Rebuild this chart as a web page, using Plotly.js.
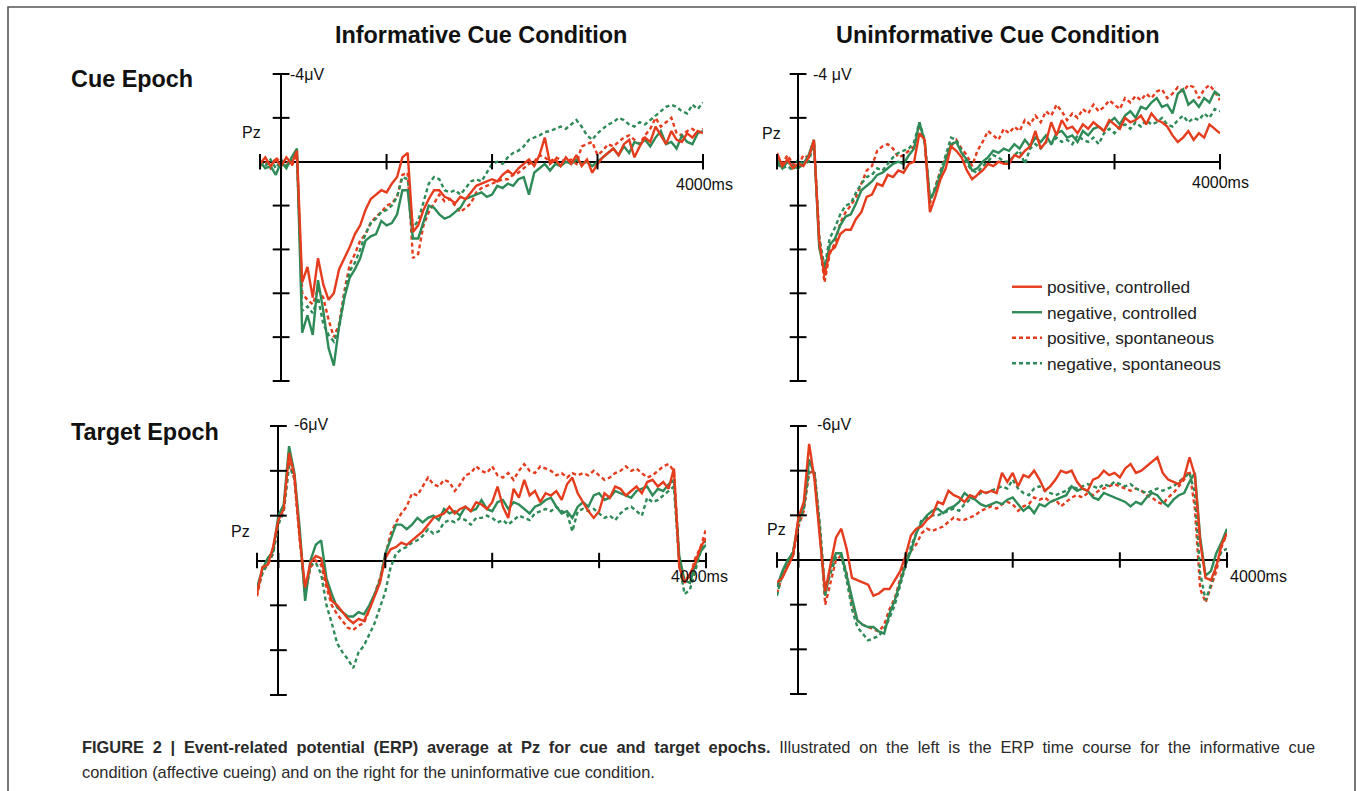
<!DOCTYPE html>
<html>
<head>
<meta charset="utf-8">
<script src="https://cdn.plot.ly/plotly-3.0.1.min.js"></script>
<style>
  html, body { margin: 0; padding: 0; background: #fff; }
  #chart { width: 1357px; height: 791px; }
</style>
</head>
<body>
<div id="chart"></div>
<script>
// ---------- DATA (µV, time in ms) ----------
const TIME = [-200,-150,-100,-50,0,
  50,100,150,200,250,300,350,400,450,
  500,550,600,650,700,750,800,850,900,950,
  1000,1050,1100,1150,1200,1250,1300,1350,1400,1450,
  1500,1550,1600,1650,1700,1750,1800,1850,1900,1950,
  2000,2050,2100,2150,2200,2250,2300,2350,2400,2450,
  2500,2550,2600,2650,2700,2750,2800,2850,2900,2950,
  3000,3050,3100,3150,3200,3250,3300,3350,3400,3450,
  3500,3550,3600,3650,3700,3750,3800,3850,3900,3950,
  4000];

const SERIES_NAMES = ['positive, controlled', 'negative, controlled', 'positive, spontaneous', 'negative, spontaneous'];
const COLUMN_TITLES = ['Informative Cue Condition', 'Uninformative Cue Condition'];
const ROW_TITLES = ['Cue Epoch', 'Target Epoch'];
const TIME_TICKS = [-200, 0, 1000, 2000, 3000, 4000];
const CUE_VTICKS = [-4, -2, 2, 4, 6, 8, 10];
const TARGET_VTICKS = [-6, -4, -2, 2, 4, 6];

// Informative cue condition, cue epoch
const infCuePC = [0.1,-0.2,0.2,-0.1,0.2,
  -0.2,0.1,-0.5,5.5,4.8,6.2,4.4,5.6,6.3,
  6.0,4.9,4.4,3.9,3.3,2.9,2.2,1.7,1.5,1.3,
  1.4,1.0,0.7,-0.2,-0.4,3.2,2.9,2.2,1.7,1.3,
  1.3,1.6,1.7,1.9,1.6,1.7,1.4,1.1,1.0,0.9,
  0.8,0.9,0.6,0.4,0.6,0.3,0.1,-0.1,0.2,-0.3,
  -1.1,0.1,-0.1,0.2,-0.2,0.1,-0.3,0.2,-0.1,0.5,
  0.1,-0.2,-0.4,-0.6,-0.3,-0.8,-1.0,-0.2,-0.7,-1.1,
  -0.9,-1.6,-1.2,-0.8,-1.4,-1.0,-0.9,-1.3,-1.1,-1.4,
  -1.3];
const infCueNC = [0.0,0.3,0.2,0.6,0.0,
  0.3,-0.2,-0.6,7.8,7.0,7.9,5.4,6.8,8.5,
  9.3,7.5,6.2,5.3,4.9,4.4,3.6,3.4,3.3,2.7,
  2.9,2.8,2.4,1.3,1.3,3.5,3.5,2.7,2.0,2.1,
  2.4,2.6,2.5,2.3,2.1,1.7,1.6,1.5,1.4,1.6,
  1.5,1.1,1.2,1.0,1.1,0.8,0.7,1.5,0.5,0.3,
  0.1,0.4,0.1,0.2,0.0,0.1,-0.1,0.1,0.0,0.2,
  0.0,-0.2,-0.4,-0.6,-0.3,-0.7,-0.4,-0.9,-0.8,-1.0,
  -0.7,-1.1,-1.4,-0.8,-0.9,-0.6,-1.2,-0.9,-0.8,-1.3,
  -1.4];
const infCuePS = [0.2,0.0,0.3,-0.2,0.1,
  0.0,0.2,-0.3,6.0,6.3,6.5,5.8,6.2,7.2,
  8.0,7.4,5.9,4.7,4.2,3.6,3.3,2.8,2.5,2.3,
  2.0,1.9,1.6,0.6,0.5,4.4,4.2,2.9,2.3,1.9,
  1.5,1.8,1.7,2.0,2.3,2.1,1.9,1.4,1.2,1.1,
  1.0,0.9,0.8,0.8,0.6,0.5,0.3,0.1,0.0,-0.3,
  -0.2,0.0,-0.2,-0.1,0.0,-0.1,0.1,-0.7,-0.8,-0.9,
  -0.3,-0.5,-0.8,-0.7,-0.9,-1.1,-1.2,-1.0,-0.8,-1.2,
  -1.5,-2.0,-1.6,-1.8,-2.0,-1.3,-1.2,-1.4,-1.5,-1.3,
  -1.5];
const infCueNS = [0.0,0.2,-0.1,0.3,-0.1,
  0.2,-0.1,-0.4,6.8,6.6,6.9,6.2,7.4,7.9,
  8.2,7.6,6.1,5.0,4.6,4.0,3.3,2.8,2.6,2.3,
  2.2,2.0,1.6,0.7,0.8,3.0,2.7,1.8,1.0,0.7,
  0.8,1.3,1.4,1.3,1.5,1.2,0.9,0.8,0.9,0.5,
  0.1,0.0,0.1,-0.2,-0.4,-0.5,-0.7,-1.0,-1.1,-1.2,
  -1.35,-1.4,-1.5,-1.6,-1.5,-1.7,-1.9,-1.6,-1.2,-1.0,
  -1.3,-1.5,-1.7,-1.8,-2.0,-1.9,-1.7,-1.6,-1.8,-1.7,
  -1.9,-2.1,-2.3,-2.5,-2.6,-2.5,-2.3,-2.2,-2.6,-2.4,
  -2.7];

// Uninformative cue condition, cue epoch
const uninfCuePC = [-0.4,0.2,-0.1,0.3,0.1,
  0.2,-0.2,-1.0,3.6,5.2,4.1,3.9,3.3,3.1,
  3.1,2.6,2.3,1.6,1.5,1.0,1.1,0.6,0.7,0.4,
  0.5,0.1,0.0,-1.3,-1.0,2.3,1.6,0.8,0.3,-0.7,
  -0.5,-0.2,0.4,0.8,0.6,0.4,0.1,0.2,0.0,0.1,
  0.1,-0.3,-0.2,-0.5,-0.7,-1.4,-0.6,-0.9,-1.8,-1.2,
  -1.9,-1.5,-1.6,-1.3,-1.7,-1.5,-1.8,-1.6,-1.4,-1.9,
  -1.7,-1.5,-2.0,-1.8,-1.9,-2.1,-1.7,-2.2,-1.9,-1.8,
  -1.6,-1.2,-0.9,-1.1,-1.4,-1.0,-1.3,-1.1,-1.7,-1.5,
  -1.3];
const uninfCueNC = [-0.1,0.3,0.0,0.2,0.3,
  0.1,-0.3,-1.0,3.9,5.0,3.8,3.5,2.9,2.5,
  2.4,1.9,1.3,1.1,0.9,0.6,0.5,0.3,0.1,0.0,
  0.1,-0.3,-0.6,-1.8,-0.9,1.7,1.3,0.6,-0.1,-0.8,
  -0.9,-0.4,-0.1,0.4,0.3,0.0,-0.2,-0.5,-0.4,-0.6,
  -0.5,-0.8,-0.6,-1.0,-0.7,-1.1,-0.9,-1.2,-0.8,-1.3,
  -1.4,-1.1,-1.2,-0.9,-1.4,-1.2,-1.5,-1.6,-1.4,-1.8,
  -2.0,-1.7,-2.1,-2.3,-2.0,-2.5,-2.4,-2.7,-2.9,-2.5,
  -2.6,-2.2,-3.1,-3.3,-2.6,-2.8,-2.5,-2.9,-2.7,-3.2,
  -3.0];
const uninfCuePS = [-0.2,0.1,-0.3,0.1,0.2,
  -0.3,-0.2,-0.9,3.5,5.5,4.2,3.7,2.8,2.3,
  2.0,1.6,1.0,0.4,0.2,-0.5,-0.7,-0.8,-0.6,-0.2,
  -0.3,-0.5,-0.7,-1.7,-0.9,1.9,1.1,0.4,-0.2,-0.7,
  -1.0,-0.6,-0.3,0.2,-0.5,-0.9,-1.4,-1.2,-1.0,-1.5,
  -1.3,-1.6,-1.4,-1.9,-1.7,-2.1,-1.8,-2.3,-2.1,-2.6,
  -2.3,-1.9,-2.2,-2.0,-2.4,-2.2,-2.6,-2.3,-2.5,-2.8,
  -2.6,-2.4,-2.9,-2.7,-3.0,-2.8,-3.1,-2.9,-3.2,-3.3,
  -2.9,-3.1,-3.4,-3.2,-3.5,-3.4,-2.9,-3.3,-3.5,-3.2,
  -2.8];
const uninfCueNS = [0.1,0.3,0.2,0.4,-0.1,
  0.1,0.0,-0.8,3.4,4.8,3.5,3.0,2.4,2.0,
  1.9,1.4,1.0,0.7,0.6,0.3,0.4,0.1,-0.2,-0.4,
  -0.5,-0.6,-0.9,-1.8,-1.0,1.8,1.2,0.5,-0.3,-1.1,
  -1.0,-0.5,0.1,0.4,0.5,0.2,0.0,-0.3,-0.2,0.0,
  0.0,-0.3,-0.5,0.1,-0.6,-0.8,-0.6,-0.9,-0.8,-1.1,
  -0.9,-1.0,-0.8,-1.2,-1.0,-0.9,-1.1,-0.8,-1.3,-1.5,
  -1.3,-1.6,-1.7,-1.5,-1.8,-1.6,-1.9,-1.7,-1.8,-2.0,
  -1.7,-1.6,-1.9,-2.1,-1.8,-2.0,-1.9,-2.2,-2.0,-2.4,
  -2.3];

// Informative cue condition, target epoch
const infTgtPC = [1.5,0.3,0.2,-0.6,-1.8,
  -2.3,-4.8,-3.8,-1.0,1.2,0.1,-0.2,-0.1,1.0,
  1.8,2.0,2.3,2.6,2.8,2.6,2.7,2.2,1.6,1.0,
  -0.1,-0.5,-0.6,-0.8,-0.7,-0.9,-1.1,-1.3,-1.6,-1.9,
  -2.0,-2.1,-2.4,-2.1,-2.3,-2.4,-2.2,-2.6,-2.5,-2.3,
  -2.6,-3.3,-2.4,-1.9,-3.2,-2.8,-3.6,-2.9,-3.1,-2.6,
  -3.0,-2.9,-3.1,-2.7,-3.4,-3.7,-3.0,-2.6,-2.2,-1.9,
  -2.2,-3.0,-2.8,-3.3,-3.2,-2.9,-3.1,-3.3,-3.0,-3.5,
  -3.6,-3.3,-3.5,-3.2,-4.1,0.3,1.0,0.6,0.1,-0.6,
  -1.0];
const infTgtNC = [1.2,0.4,-0.1,-0.4,-2.0,
  -2.5,-5.1,-3.9,-1.4,1.8,0.0,-0.7,-0.9,0.8,
  1.5,2.1,2.3,2.5,2.5,2.3,2.4,2.0,1.5,0.9,
  -0.3,-1.0,-1.6,-1.6,-1.4,-1.6,-1.9,-1.7,-1.9,-2.0,
  -1.8,-2.3,-2.1,-2.2,-2.0,-2.4,-2.2,-2.3,-2.7,-2.3,
  -2.2,-2.6,-2.7,-2.3,-2.6,-2.5,-2.3,-2.1,-2.4,-2.5,
  -2.7,-2.8,-2.4,-2.1,-2.2,-1.9,-2.4,-2.6,-2.4,-2.9,
  -3.0,-2.7,-2.8,-3.1,-3.0,-2.9,-2.8,-3.1,-3.2,-3.3,
  -2.9,-3.2,-3.1,-3.4,-3.6,-0.2,0.9,1.0,0.2,-0.4,
  -0.7];
const infTgtPS = [1.6,0.5,0.2,-0.3,-1.7,
  -2.2,-4.4,-3.6,-0.9,1.5,0.3,0.0,0.2,1.2,
  2.0,2.4,2.7,3.0,3.1,2.9,2.8,2.2,1.5,0.8,
  -0.2,-1.2,-1.7,-2.1,-2.4,-3.0,-2.9,-3.3,-3.7,-3.4,
  -3.3,-3.6,-3.5,-3.1,-3.4,-3.8,-3.9,-4.2,-4.0,-3.9,
  -4.2,-3.8,-3.7,-3.9,-3.6,-4.0,-4.3,-4.0,-3.9,-4.2,
  -4.1,-4.0,-3.8,-3.9,-3.7,-3.9,-3.8,-3.9,-3.8,-4.0,
  -3.8,-3.6,-3.7,-3.9,-4.0,-4.2,-4.0,-4.1,-3.9,-3.7,
  -3.8,-4.0,-4.2,-4.3,-4.0,0.0,0.9,0.7,-0.1,-0.6,
  -1.4];
const infTgtNS = [1.3,0.6,0.1,-0.3,-1.6,
  -2.2,-4.2,-3.7,-1.1,1.5,0.2,0.1,0.6,2.0,
  2.8,3.7,4.1,4.4,4.8,4.1,3.8,3.3,2.8,2.1,
  1.4,0.3,-0.3,-0.5,-0.6,-0.8,-0.9,-1.1,-1.4,-1.2,
  -1.3,-1.7,-1.8,-1.7,-1.9,-1.8,-1.6,-1.9,-1.9,-2.0,
  -1.9,-1.7,-1.8,-1.6,-1.8,-2.0,-1.9,-1.8,-2.1,-2.2,
  -2.3,-2.2,-2.4,-2.2,-2.1,-1.3,-2.2,-2.3,-2.2,-2.3,
  -2.1,-1.9,-2.0,-1.8,-2.1,-2.3,-2.4,-2.2,-2.0,-2.8,
  -2.6,-2.7,-2.9,-3.1,-3.3,0.2,1.5,1.3,0.5,-0.4,
  -0.9];

// Uninformative cue condition, target epoch
const uninfTgtPC = [1.0,0.8,0.3,-0.2,-1.9,
  -2.6,-5.2,-3.6,-1.0,1.4,0.2,-1.0,-1.4,-0.5,
  0.8,0.9,1.0,1.1,1.6,1.5,1.3,1.3,0.9,0.5,
  -0.2,-1.1,-1.4,-1.5,-1.8,-2.0,-2.6,-2.5,-3.1,-2.9,
  -2.8,-2.6,-2.9,-2.8,-3.1,-3.0,-3.1,-3.0,-3.9,-3.5,
  -3.9,-3.3,-3.8,-3.7,-4.0,-3.6,-3.1,-3.3,-3.6,-4.0,
  -3.9,-4.0,-3.5,-3.2,-3.1,-3.6,-3.7,-4.0,-3.8,-3.9,
  -3.7,-4.1,-4.3,-3.9,-4.0,-4.2,-4.4,-4.6,-3.9,-3.6,
  -3.5,-3.4,-3.7,-4.6,-3.8,-0.8,0.8,0.9,0.3,-0.7,
  -1.2];
const uninfTgtNC = [1.2,0.5,0.0,-0.3,-1.8,
  -2.4,-4.5,-3.8,-1.2,1.6,0.3,-0.3,-0.3,0.7,
  1.8,2.7,2.9,3.0,3.0,3.2,3.3,2.4,1.8,1.0,
  0.2,-0.4,-1.2,-1.7,-2.0,-2.2,-2.3,-2.1,-2.3,-2.4,
  -2.6,-3.0,-2.8,-2.7,-2.5,-2.4,-2.5,-2.6,-2.5,-2.7,
  -2.8,-2.5,-2.2,-2.4,-2.1,-2.5,-2.4,-2.6,-2.7,-2.8,
  -2.9,-3.3,-3.1,-3.2,-3.1,-2.8,-2.7,-3.0,-2.9,-2.8,
  -2.7,-2.6,-2.4,-2.6,-2.5,-2.8,-3.0,-2.9,-2.6,-2.4,
  -2.7,-2.9,-3.0,-3.5,-3.9,-1.0,0.7,0.5,-0.3,-0.8,
  -1.4];
const uninfTgtPS = [1.5,0.7,0.2,-0.2,-1.5,
  -2.2,-3.9,-4.0,-1.4,2.0,1.0,0.0,-0.2,0.6,
  1.9,2.7,2.9,3.0,3.1,3.2,2.9,2.2,1.7,0.9,
  0.0,-0.4,-0.7,-1.2,-1.4,-1.3,-1.4,-1.5,-1.7,-1.9,
  -1.8,-1.8,-1.9,-2.0,-2.2,-2.3,-2.4,-2.3,-2.5,-2.6,
  -2.5,-2.2,-2.4,-2.5,-2.8,-2.7,-2.8,-2.6,-2.7,-2.4,
  -2.6,-2.8,-2.9,-2.8,-3.0,-2.9,-3.1,-3.2,-3.3,-3.4,
  -3.3,-3.2,-3.1,-3.2,-3.1,-2.9,-2.8,-2.6,-2.5,-2.8,
  -3.0,-3.3,-3.6,-4.0,-2.3,1.3,1.9,1.2,0.5,-0.6,
  -1.2];
const uninfTgtNS = [1.6,0.6,0.1,-0.4,-1.6,
  -2.3,-4.0,-3.9,-1.6,1.4,0.6,-0.1,-0.2,0.9,
  2.2,3.0,3.3,3.6,3.5,3.4,3.1,2.6,2.0,1.1,
  0.3,-0.6,-1.2,-1.8,-1.9,-2.0,-2.0,-2.1,-2.2,-2.3,
  -2.2,-2.5,-2.7,-2.8,-3.0,-3.0,-3.1,-3.2,-3.3,-3.2,
  -3.6,-3.2,-3.0,-2.9,-3.2,-3.3,-3.1,-3.0,-2.9,-3.0,
  -3.1,-3.3,-3.2,-3.3,-3.4,-3.3,-3.2,-3.4,-3.3,-3.5,
  -3.4,-3.3,-3.4,-3.2,-3.1,-3.0,-3.1,-3.2,-3.1,-3.2,
  -3.3,-3.5,-3.7,-3.9,-3.0,0.6,1.8,1.1,0.2,-0.4,
  -0.5];

// ---------- STYLE ----------
const W = 1357, H = 791;
const RED = '#e63c1e', GREEN = '#2e8a57';
const DASH = '4px,3px';
const STYLES = [
  {color: RED, dash: 'solid'},
  {color: GREEN, dash: 'solid'},
  {color: RED, dash: DASH},
  {color: GREEN, dash: DASH}
];
const FONT = 'Liberation Sans, Arial, Helvetica, sans-serif';
const px = v => v / W;
const py = v => 1 - v / H;

const panels = [
  {ax: '', series: [infCuePC, infCueNC, infCuePS, infCueNS], vticks: CUE_VTICKS, yr: [10, -4],
   dom: {x: [260, 703], y: [74, 381]}},
  {ax: '2', series: [uninfCuePC, uninfCueNC, uninfCuePS, uninfCueNS], vticks: CUE_VTICKS, yr: [10, -4],
   dom: {x: [777, 1220], y: [74, 381]}},
  {ax: '3', series: [infTgtPC, infTgtNC, infTgtPS, infTgtNS], vticks: TARGET_VTICKS, yr: [6, -6],
   dom: {x: [257, 706], y: [426, 695]}},
  {ax: '4', series: [uninfTgtPC, uninfTgtNC, uninfTgtPS, uninfTgtNS], vticks: TARGET_VTICKS, yr: [6, -6],
   dom: {x: [777, 1227], y: [426, 694]}}
];

const traces = [];
const layout = {
  width: W, height: H,
  margin: {l: 0, r: 0, t: 0, b: 0},
  paper_bgcolor: '#fff', plot_bgcolor: 'rgba(0,0,0,0)',
  showlegend: true,
  hovermode: false,
  legend: {
    x: px(1007), y: py(269), xanchor: 'left', yanchor: 'top',
    bgcolor: 'rgba(0,0,0,0)', borderwidth: 0,
    font: {family: FONT, size: 17.3, color: '#222'},
    traceorder: 'normal', tracegroupgap: 0
  },
  annotations: [],
  shapes: []
};

const drawOrder = [2, 3, 1, 0];
panels.forEach((p, pi) => {
  const xa = 'x' + p.ax, ya = 'y' + p.ax;
  drawOrder.forEach(si => {
    traces.push({
      type: 'scatter', mode: 'lines',
      x: TIME, y: p.series[si],
      xaxis: xa, yaxis: ya,
      name: SERIES_NAMES[si],
      legendrank: si + 1,
      showlegend: pi === 0,
      line: {color: STYLES[si].color, dash: STYLES[si].dash, width: 2.4},
      hoverinfo: 'skip'
    });
  });
  // tick marks on the crossing axes
  traces.push({
    type: 'scatter', mode: 'markers', x: TIME_TICKS, y: TIME_TICKS.map(() => 0),
    xaxis: xa, yaxis: ya, showlegend: false, cliponaxis: false, hoverinfo: 'skip',
    marker: {symbol: 'line-ns-open', size: 11, color: '#000', line: {color: '#000', width: 2}}
  });
  traces.push({
    type: 'scatter', mode: 'markers', x: p.vticks.map(() => 0), y: p.vticks,
    xaxis: xa, yaxis: ya, showlegend: false, cliponaxis: false, hoverinfo: 'skip',
    marker: {symbol: 'line-ew-open', size: 12, color: '#000', line: {color: '#000', width: 2}}
  });
  const axBase = {showgrid: false, showticklabels: false, ticks: '', showline: false,
    zeroline: true, zerolinecolor: '#000', zerolinewidth: 2, fixedrange: true};
  layout['xaxis' + p.ax] = Object.assign({}, axBase, {
    domain: [px(p.dom.x[0]), px(p.dom.x[1])], range: [TIME_TICKS[0], TIME_TICKS[TIME_TICKS.length - 1]],
    anchor: ya
  });
  layout['yaxis' + p.ax] = Object.assign({}, axBase, {
    domain: [py(p.dom.y[1]), py(p.dom.y[0])], range: p.yr, anchor: xa
  });
});

function ann(text, x, y, opts) {
  layout.annotations.push(Object.assign({
    text: text, x: px(x), y: py(y), xref: 'paper', yref: 'paper',
    showarrow: false, xanchor: 'left', yanchor: 'middle',
    font: {family: FONT, size: 16, color: '#111'}
  }, opts || {}));
}

// column and row titles
const TITLE_FONT = {family: FONT, size: 23.4, color: '#111'};
ann('<b>' + COLUMN_TITLES[0] + '</b>', 481, 35, {xanchor: 'center', font: TITLE_FONT});
ann('<b>' + COLUMN_TITLES[1] + '</b>', 998, 35, {xanchor: 'center', font: TITLE_FONT});
ann('<b>' + ROW_TITLES[0] + '</b>', 69, 79, {font: TITLE_FONT});
ann('<b>' + ROW_TITLES[1] + '</b>', 69, 432, {font: TITLE_FONT});

// axis labels
ann('-4\u03bcV', 288, 74);
ann('-4 \u03bcV', 811, 74);
ann('-6\u03bcV', 292, 425);
ann('-6\u03bcV', 815, 424);
ann('Pz', 240, 132);
ann('Pz', 760, 133);
ann('Pz', 229, 531);
ann('Pz', 765, 529);
ann('4000ms', 704, 184, {xanchor: 'center'});
ann('4000ms', 1220, 183, {xanchor: 'center'});
ann('4000ms', 699, 576, {xanchor: 'center'});
ann('4000ms', 1228, 576);

// caption (first line justified in the original)
const CAP1_BOLD = 'FIGURE 2 | Event-related potential (ERP) average at Pz for cue and target epochs.';
const CAP1_REST = ' Illustrated on the left is the ERP time course for the informative cue';
const CAP2 = 'condition (affective cueing) and on the right for the uninformative cue condition.';
const CAP_FONT = {family: FONT, size: 16.4, color: '#2a2a2a'};
ann('<span style="word-spacing:4.2px"><b>' + CAP1_BOLD + '</b>' + CAP1_REST + '</span>', 80, 747, {font: CAP_FONT});
ann(CAP2, 80, 772, {font: CAP_FONT});

// frame around the figure (open at the bottom)
layout.shapes.push({
  type: 'path', xref: 'paper', yref: 'paper',
  path: 'M' + px(8) + ',' + py(795) + ' L' + px(8) + ',' + py(7) + ' L' + px(1355) + ',' + py(7) + ' L' + px(1355) + ',' + py(795),
  line: {color: '#555', width: 1.6}
});

Plotly.newPlot('chart', traces, layout, {staticPlot: true, displayModeBar: false});
</script>
</body>
</html>
